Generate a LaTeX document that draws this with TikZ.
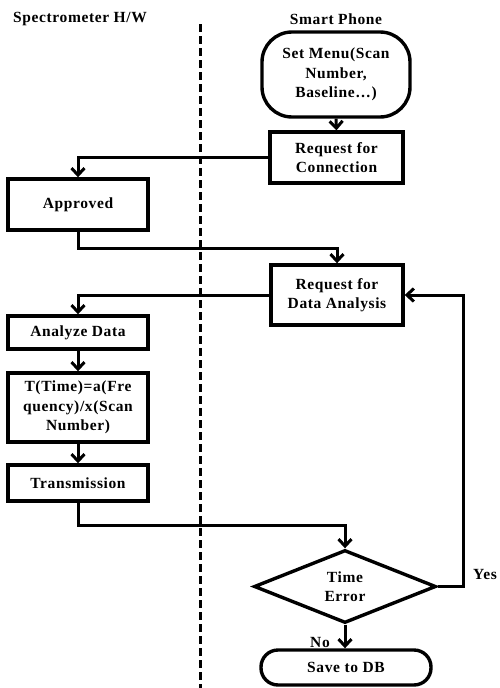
\documentclass[tikz,border=0pt]{standalone}
\usepackage{fontspec}
\setmainfont{Liberation Serif}[LetterSpace=4]
\usetikzlibrary{shapes.geometric,arrows.meta}
\begin{document}
\begin{tikzpicture}[x=1pt,y=-1pt,
  every node/.style={font=\fontsize{15.5}{19.5}\selectfont\bfseries, align=center, inner sep=0pt},
  box/.style={draw, line width=3.4pt, rectangle},
  stadium/.style={draw, line width=3.4pt, rectangle},
  decision/.style={draw, line width=3.4pt, diamond, minimum width=182pt, minimum height=73pt},
  conn/.style={line width=3pt},
  arr/.style={conn, -{Straight Barb[length=7pt,width=13pt,line width=3pt]}},
  lane/.style={line width=3pt, dash pattern=on 8pt off 4pt}
]
\useasboundingbox (0,0) rectangle (500,688);
% lanes
\node (t1) at (80,19) {Spectrometer H/W};
\node (t2) at (336,19) {Smart Phone};
\coordinate (laneTop) at (200,24);
\coordinate (laneBot) at (200,688);
\draw[lane] (laneTop) -- (laneBot);
% nodes
\node[stadium, rounded corners=30pt, minimum width=148pt, minimum height=85pt] (menu) at (336,74.5) {Set Menu(Scan\\Number,\\Baseline…)};
\node[box, minimum width=133pt, minimum height=51pt] (conn) at (336.5,157.5) {Request for\\Connection};
\node[box, minimum width=140pt, minimum height=51pt] (appr) at (78,204.5) {Approved};
\node[box, minimum width=132pt, minimum height=60pt] (rda) at (337,295) {Request for\\Data Analysis};
\node[box, minimum width=140pt, minimum height=33pt] (anal) at (78,332.5) {Analyze Data};
\node[box, minimum width=140pt, minimum height=69pt] (calc) at (78,407.5) {T(Time)=a(Fre\\quency)/x(Scan\\Number)};
\node[box, minimum width=140pt, minimum height=36pt] (trans) at (78,483) {Transmission};
\node[decision] (dia) at (345,586.5) {Time\\Error};
\node[stadium, rounded corners=17pt, minimum width=170pt, minimum height=35pt] (save) at (346,667.5) {Save to DB};
\node (yes) at (485,574) {Yes};
\node (no) at (320,642) {No};
% connectors
\draw[arr] (menu.south) -- (conn.north);
\draw[arr] (conn.west) -| (appr.north);
\coordinate (c1) at (78,248);
\draw[arr] (appr.south) -- (c1) -| (rda.north);
\draw[arr] (rda.west) -| (anal.north);
\draw[arr] (anal.south) -- (calc.north);
\draw[arr] (calc.south) -- (trans.north);
\coordinate (c2) at (78,525);
\draw[arr] (trans.south) -- (c2) -| (dia.north);
\coordinate (c3) at (463,586.5);
\draw[arr] (dia.east) -- (c3) |- (rda.east);
\draw[arr] (dia.south) -- (dia.south |- save.north);
\end{tikzpicture}
\end{document}
